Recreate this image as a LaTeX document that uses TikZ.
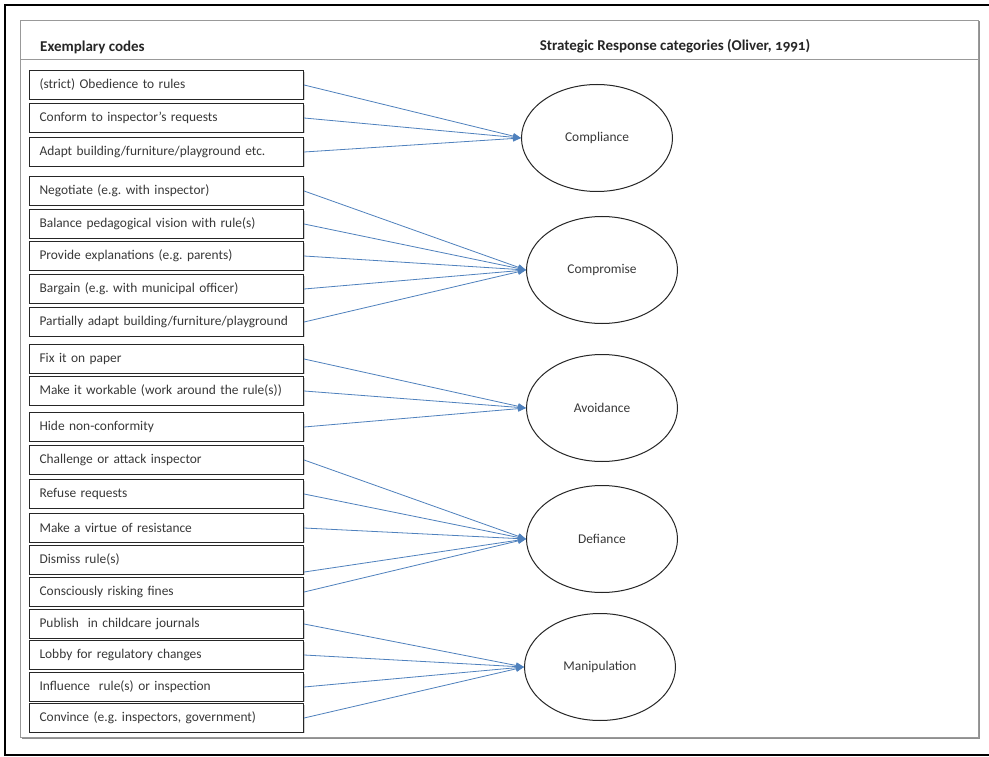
\documentclass[tikz,border=0pt]{standalone}
\usepackage{fontspec}
\setmainfont{Carlito}
\frenchspacing
\usetikzlibrary{shapes.geometric}
\usetikzlibrary{arrows.meta}
\usetikzlibrary{shadows}
\definecolor{arrowblue}{HTML}{4F81BD}
\definecolor{textgray}{HTML}{383838}
\tikzset{x=1pt, y=-1pt, % one unit is one pixel, y runs downwards
codebox/.style=
    { % Sets the properties for each code box
        draw=black!85,
        line width=1.1pt,
        fill=white,
        text=textgray,
        anchor=west,
        minimum height=28.5pt,
        text width=254pt,
        inner xsep=10pt,
        inner ysep=0pt,
        align=left,
        font=\fontsize{13.4}{15}\selectfont,
        drop shadow={shadow xshift=1pt,shadow yshift=-1pt,opacity=0.35}
    },
catellipse/.style=
    { % Sets the properties for each response category
        ellipse,
        draw=black!85,
        line width=1pt,
        minimum width=151pt,
        minimum height=107pt,
        text=textgray,
        font=\fontsize{13.4}{15}\selectfont
    },
    header/.style={font=\bfseries\fontsize{15}{18}\selectfont, text=black!85, inner sep=0pt},
    every edge/.style={ % Sets the properties for each connector
        draw=arrowblue,
        ->,>={Triangle[length=8pt,width=6pt]}, % filled arrowheads
        line width=0.8pt
    }
}

\begin{document}
\begin{tikzpicture}
\useasboundingbox (0,0) rectangle (989,757);
\draw[line width=1.3pt] (989,5) -- (5,5) -- (5,755) -- (989,755);
\draw[draw=gray!80, fill=white, line width=0.8pt,
      drop shadow={shadow xshift=1.5pt,shadow yshift=-1.5pt,fill=black!55,opacity=0.8}]
      (20,20) rectangle (978,737);
\draw[gray!80, line width=0.8pt] (20,59) -- (978,59);
\node [header,anchor=west] (h1) at (40,47) {Exemplary codes};
\node [header] (h2) at (675,46) {Strategic Response categories (Oliver, {\addfontfeature{Numbers=OldStyle}1991})};
%%%%%%%%%%%%%%%%%%%%%%%%%%%%%%%%%%
\node [codebox] (1) at (29,85) {(strict) Obedience to rules};
\node [codebox] (2) at (29,118) {Conform to inspector’s requests};
\node [codebox] (3) at (29,152) {Adapt building/furniture/playground etc.};
\node [codebox] (4) at (29,191) {Negotiate (e.g. with inspector)};
\node [codebox] (5) at (29,224) {Balance pedagogical vision with rule(s)};
\node [codebox] (6) at (29,256) {Provide explanations (e.g. parents)};
\node [codebox] (7) at (29,289) {Bargain (e.g. with municipal officer)};
\node [codebox] (8) at (29,322) {Partially adapt building/furniture/playground};
\node [codebox] (9) at (29,359) {Fix it on paper};
\node [codebox] (10) at (29,391) {Make it workable (work around the rule(s))};
\node [codebox] (11) at (29,427) {Hide non-conformity};
\node [codebox] (12) at (29,460) {Challenge or attack inspector};
\node [codebox] (13) at (29,494) {Refuse requests};
\node [codebox] (14) at (29,528) {Make a virtue of resistance};
\node [codebox] (15) at (29,560) {Dismiss rule(s)};
\node [codebox] (16) at (29,592) {Consciously risking fines};
\node [codebox] (17) at (29,624) {Publish~ in childcare journals};
\node [codebox] (18) at (29,655) {Lobby for regulatory changes};
\node [codebox] (19) at (29,687) {Influence~ rule(s) or inspection};
\node [codebox] (20) at (29,718) {Convince (e.g. inspectors, government)};
%%%%%%%%%%%%%%%%%%%%%%%%%%%%%%%%%%
\node [catellipse] (21) at (597,138) {Compliance};
\node [catellipse] (22) at (602,270) {Compromise};
\node [catellipse] (23) at (602,408) {Avoidance};
\node [catellipse] (24) at (602,539) {Defiance};
\node [catellipse] (25) at (600,667) {Manipulation};

\draw
    (1.east) edge (21.west)
    (2.east) edge (21.west)
    (3.east) edge (21.west)

    (4.east) edge (22.west)
    (5.east) edge (22.west)
    (6.east) edge (22.west)
    (7.east) edge (22.west)
    (8.east) edge (22.west)

    (9.east) edge (23.west)
    (10.east) edge (23.west)
    (11.east) edge (23.west)

    (12.east) edge (24.west)
    (13.east) edge (24.west)
    (14.east) edge (24.west)
    (15.-5) edge (24.west)
    (16.east) edge (24.west)

    (17.east) edge (25.west)
    (18.east) edge (25.west)
    (19.east) edge (25.west)
    (20.east) edge (25.west)
    ;
\end{tikzpicture}
\end{document}
